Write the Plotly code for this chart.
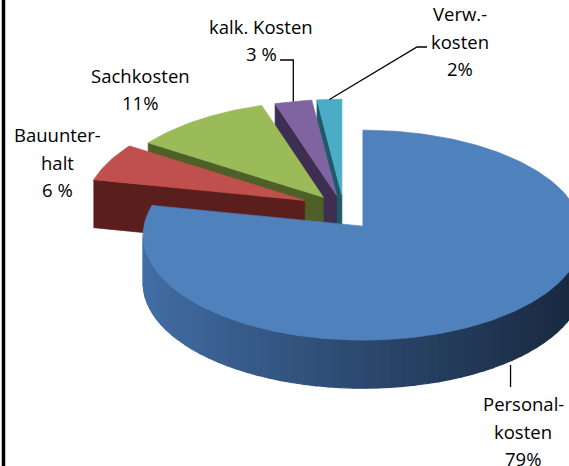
import numpy as np
import plotly.graph_objects as go

# ---------------- data ----------------
CATEGORIES = ["Personalkosten", "Bauunterhalt", "Sachkosten", "kalk. Kosten", "Verw.-kosten"]
VALUES = [79, 6, 11, 3, 2]
LABEL_LINES = [
    ["Personal-", "kosten", "79%"],
    ["Bauunter-", "halt", "6 %"],
    ["Sachkosten", "11%"],
    ["kalk. Kosten", "3 %"],
    ["Verw.-", "kosten", "2%"],
]

# ---------------- style ----------------
TOP_COLORS = ["#4f81bd", "#c0504d", "#9bbb59", "#8064a2", "#4bacc6"]
SIDE_COLORS = ["#3f6ba3", "#5a1f1d", "#4e5f27", "#3d2e52", "#1f5a68"]
GRAD_LIGHT = (66, 110, 166)
GRAD_DARK = (24, 40, 62)

W, H = 569, 466
CX, CY = 344.0, 205.0
RX, RY = 219.0, 105.0
PERSP = 0.0857
DEPTH = 48.0
EX, EY_FAR, EY_NEAR = 34.0, 9.7, 31.0
PULL = [0.88, 1.25, 1.0, 1.0, 1.0]

LABEL_POS = [(523, 431), (57, 162), (140, 89), (261, 40), (460, 41)]
LINE_H = 27.5
FONT = dict(family="Open Sans, Lato, sans-serif", size=18.5, color="#000000")


def rim_pt(theta, vx, vy):
    t = np.radians(theta)
    s, c = np.sin(t), np.cos(t)
    k = 1 - PERSP * c
    return vx + RX * k * s, vy - RY * k * c


total = float(sum(VALUES))
fracs = [v / total for v in VALUES]
starts = np.concatenate([[0.0], np.cumsum(fracs)[:-1]]) * 360.0
ends = np.cumsum(fracs) * 360.0

slices = []
for i in range(len(VALUES)):
    th0, th1 = starts[i], ends[i]
    bis = 0.5 * (th0 + th1)
    s, c = np.sin(np.radians(bis)), np.cos(np.radians(bis))
    ey = EY_FAR if c > 0 else EY_NEAR
    vx = CX + PULL[i] * EX * s
    vy = CY - PULL[i] * ey * c
    n = max(3, int(abs(th1 - th0) / 1.0) + 1)
    thetas = np.linspace(th0, th1, n)
    pts = [(vx, vy)] + [rim_pt(t, vx, vy) for t in thetas]
    slices.append(dict(i=i, th0=th0, th1=th1, bis=bis, c=c, v=(vx, vy), pts=pts))

fig = go.Figure()


def add_poly(xs, ys, color, lw=0.7):
    fig.add_trace(go.Scatter(
        x=list(xs) + [xs[0]], y=list(ys) + [ys[0]], mode="lines", fill="toself",
        fillcolor=color, line=dict(color=color, width=lw), hoverinfo="skip",
        showlegend=False))


def lerp_color(t):
    t = min(max(t, 0.0), 1.0) ** 0.9
    r = [int(round(a + (b - a) * t)) for a, b in zip(GRAD_LIGHT, GRAD_DARK)]
    return "rgb(%d,%d,%d)" % tuple(r)


for sl in sorted(slices, key=lambda d: -d["c"]):
    pts = sl["pts"]
    n = len(pts)
    xs = np.array([p[0] for p in pts])
    ys = np.array([p[1] for p in pts])
    area = 0.5 * np.sum(xs * np.roll(ys, -1) - np.roll(xs, -1) * ys)
    vis = []
    for e in range(n):
        p, q = pts[e], pts[(e + 1) % n]
        dx = q[0] - p[0]
        ny = -dx if area > 0 else dx
        vis.append(ny > 1e-6)
    # radial faces
    for e in (0, n - 1):
        if vis[e]:
            p, q = pts[e], pts[(e + 1) % n]
            add_poly([p[0], q[0], q[0], p[0]], [p[1], q[1], q[1] + DEPTH, p[1] + DEPTH],
                     SIDE_COLORS[sl["i"]])
    # rim faces in bands
    rim_edges = [e for e in range(1, n - 1) if vis[e]]
    chunk = []
    groups = []
    for e in rim_edges:
        if chunk and (e != chunk[-1] + 1 or len(chunk) >= 3):
            groups.append(chunk)
            chunk = []
        chunk.append(e)
    if chunk:
        groups.append(chunk)
    vx = sl["v"][0]
    for g in groups:
        idx = list(range(g[0], g[-1] + 2))
        top = [pts[k] for k in idx]
        bx = [p[0] for p in top] + [p[0] for p in reversed(top)]
        by = [p[1] for p in top] + [p[1] + DEPTH for p in reversed(top)]
        xm = np.mean([p[0] for p in top])
        col = lerp_color((xm - (vx - RX)) / (2 * RX)) if sl["i"] == 0 else SIDE_COLORS[sl["i"]]
        add_poly(bx, by, col, lw=1.2)
    # top face
    add_poly(xs, ys, TOP_COLORS[sl["i"]])

# ---------------- leader lines ----------------
def leader(points):
    fig.add_trace(go.Scatter(x=[p[0] for p in points], y=[p[1] for p in points], mode="lines",
                             line=dict(color="#000000", width=1.3), hoverinfo="skip",
                             showlegend=False))

s0 = slices[0]
bx0, by0 = rim_pt(s0["bis"], *s0["v"])
leader([(bx0, by0 + DEPTH + 4), (bx0, 387)])
s3 = slices[3]
x3, y3 = rim_pt(s3["bis"], *s3["v"])
leader([(280, 60), (x3, 60), (x3, y3)])
s4 = slices[4]
x4, y4 = rim_pt(s4["bis"], *s4["v"])
leader([(427, 47), (417, 47), (x4, y4)])

# ---------------- labels ----------------
annotations = []
for lines, (lx, ly) in zip(LABEL_LINES, LABEL_POS):
    m = len(lines)
    for j, txt in enumerate(lines):
        annotations.append(dict(x=lx, y=ly + (j - (m - 1) / 2) * LINE_H, text=txt,
                                showarrow=False, xanchor="center", yanchor="middle",
                                font=FONT, xref="x", yref="y"))

fig.update_layout(
    width=W, height=H, margin=dict(l=0, r=0, t=0, b=0),
    paper_bgcolor="white", plot_bgcolor="white", showlegend=False,
    xaxis=dict(range=[0, W], visible=False, fixedrange=True),
    yaxis=dict(range=[H, 0], visible=False, fixedrange=True),
    annotations=annotations,
    shapes=[dict(type="line", xref="x", yref="y", x0=3.5, x1=3.5, y0=0, y1=H,
                 line=dict(color="#000000", width=3.5))],
)

fig.write_html("out.html", config={"displayModeBar": False, "staticPlot": True},
               post_script="document.body.style.margin='0px';document.body.style.overflow='hidden';")
